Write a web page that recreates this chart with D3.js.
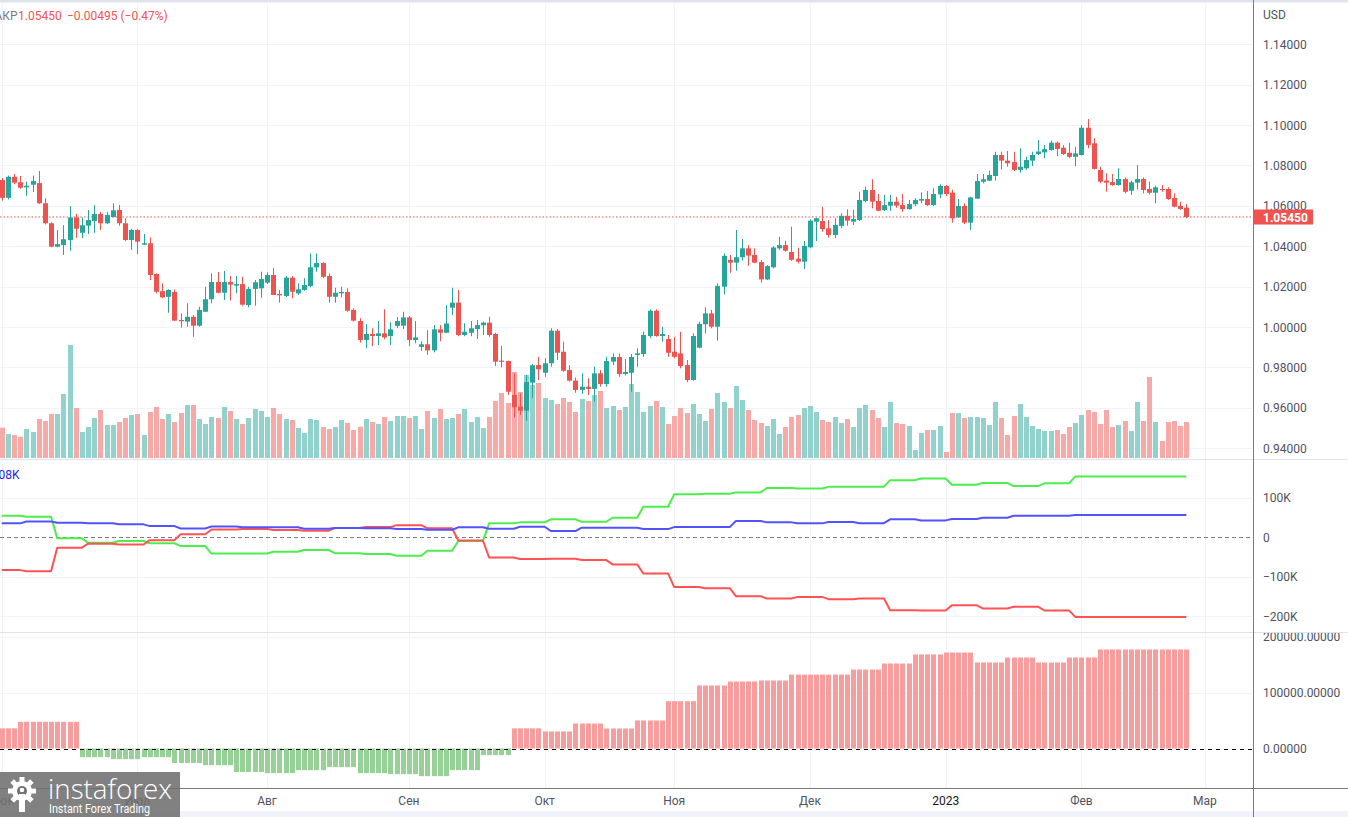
<!DOCTYPE html>
<html><head><meta charset="utf-8">
<script src="https://cdn.jsdelivr.net/npm/d3@7"></script>
<style>body{margin:0;background:#fff;overflow:hidden}svg{display:block;font-family:Roboto,"Liberation Sans",sans-serif}</style>
</head><body><svg id="chart" width="1348" height="817"></svg>
<script>
// ---------- DATA ----------
const opens=[1.0728,1.0640,1.0744,1.0717,1.0692,1.0705,1.0713,1.0613,1.0514,1.0398,
1.0406,1.0431,1.0543,1.0467,1.0502,1.0525,1.0560,1.0514,1.0545,1.0580,
1.0514,1.0431,1.0481,1.0408,1.0415,1.0263,1.0178,1.0150,1.0174,1.0035,
1.0027,1.0051,1.0007,1.0076,1.0138,1.0223,1.0170,1.0223,1.0205,1.0213,
1.0109,1.0189,1.0192,1.0220,1.0258,1.0164,1.0154,1.0245,1.0167,1.0184,
1.0203,1.0296,1.0317,1.0253,1.0150,1.0167,1.0174,1.0085,1.0030,0.9936,
0.9966,0.9956,0.9969,0.9956,1.0006,1.0007,1.0048,0.9936,0.9902,0.9915,
0.9885,0.9989,0.9972,1.0096,1.0121,0.9961,0.9972,0.9990,1.0009,1.0022,
0.9966,0.9834,0.9832,0.9664,0.9606,0.9586,0.9725,0.9812,0.9774,0.9821,
0.9982,0.9878,0.9788,0.9735,0.9689,0.9705,0.9694,0.9771,0.9718,0.9829,
0.9852,0.9768,0.9774,0.9862,0.9867,0.9956,1.0081,0.9956,0.9941,0.9878,
0.9870,0.9812,0.9738,0.9898,1.0014,1.0068,1.0002,1.0200,1.0333,1.0319,
1.0346,1.0390,1.0357,1.0322,1.0236,1.0296,1.0390,1.0406,1.0372,1.0339,
1.0324,1.0395,1.0522,1.0525,1.0489,1.0456,1.0501,1.0551,1.0522,1.0530,
1.0624,1.0679,1.0624,1.0579,1.0601,1.0621,1.0604,1.0584,1.0608,1.0626,
1.0634,1.0604,1.0657,1.0699,1.0666,1.0544,1.0600,1.0517,1.0636,1.0720,
1.0725,1.0748,1.0852,1.0824,1.0817,1.0778,1.0786,1.0824,1.0857,1.0865,
1.0877,1.0913,1.0888,1.0863,1.0843,1.0852,1.0987,1.0910,1.0778,1.0725,
1.0718,1.0703,1.0733,1.0675,1.0715,1.0733,1.0684,1.0665,1.0684,1.0684,
1.0639,1.0600,1.0591];
const highs=[1.0738,1.0750,1.0758,1.0748,1.0720,1.0750,1.0773,1.0638,1.0519,1.0481,
1.0505,1.0599,1.0560,1.0543,1.0580,1.0604,1.0571,1.0569,1.0613,1.0604,
1.0539,1.0486,1.0486,1.0461,1.0444,1.0266,1.0217,1.0187,1.0186,1.0068,
1.0118,1.0060,1.0101,1.0200,1.0266,1.0273,1.0278,1.0253,1.0253,1.0249,
1.0200,1.0233,1.0274,1.0271,1.0293,1.0184,1.0253,1.0253,1.0217,1.0242,
1.0365,1.0365,1.0321,1.0266,1.0195,1.0200,1.0192,1.0093,1.0044,1.0015,
0.9994,1.0030,1.0088,1.0024,1.0050,1.0076,1.0055,1.0030,0.9930,0.9985,
1.0010,1.0010,1.0109,1.0195,1.0184,1.0019,1.0030,1.0035,1.0027,1.0051,
0.9972,0.9906,0.9834,0.9771,0.9672,0.9763,0.9817,0.9853,0.9846,0.9994,
0.9991,0.9928,0.9812,0.9751,0.9771,0.9747,0.9804,0.9788,0.9853,0.9870,
0.9870,0.9842,0.9867,0.9895,0.9977,1.0088,1.0088,1.0002,0.9961,0.9952,
0.9977,0.9837,0.9969,1.0027,1.0098,1.0085,1.0217,1.0365,1.0357,1.0481,
1.0436,1.0406,1.0390,1.0332,1.0307,1.0401,1.0447,1.0428,1.0497,1.0393,
1.0426,1.0534,1.0541,1.0596,1.0530,1.0539,1.0563,1.0583,1.0580,1.0670,
1.0695,1.0732,1.0659,1.0654,1.0654,1.0645,1.0659,1.0629,1.0638,1.0667,
1.0674,1.0687,1.0707,1.0703,1.0680,1.0634,1.0613,1.0645,1.0758,1.0758,
1.0774,1.0868,1.0868,1.0872,1.0868,1.0885,1.0843,1.0868,1.0926,1.0901,
1.0923,1.0918,1.0901,1.0913,1.0893,1.1000,1.1030,1.0935,1.0794,1.0761,
1.0758,1.0786,1.0740,1.0725,1.0802,1.0741,1.0720,1.0700,1.0703,1.0692,
1.0662,1.0621,1.0609];
const lows=[1.0626,1.0632,1.0707,1.0685,1.0650,1.0669,1.0610,1.0508,1.0395,1.0395,
1.0357,1.0378,1.0442,1.0440,1.0461,1.0467,1.0481,1.0510,1.0543,1.0502,
1.0425,1.0382,1.0362,1.0406,1.0233,1.0167,1.0144,1.0071,1.0030,0.9997,
1.0002,0.9952,1.0002,1.0076,1.0118,1.0167,1.0134,1.0131,1.0167,1.0106,
1.0098,1.0106,1.0145,1.0214,1.0159,1.0121,1.0149,1.0143,1.0159,1.0180,
1.0197,1.0275,1.0242,1.0121,1.0121,1.0147,1.0076,1.0027,0.9923,0.9895,
0.9906,0.9911,0.9940,0.9911,0.9995,0.9990,0.9906,0.9920,0.9882,0.9862,
0.9875,0.9930,0.9970,1.0060,0.9955,0.9955,0.9955,0.9941,0.9961,0.9952,
0.9807,0.9801,0.9664,0.9553,0.9565,0.9537,0.9650,0.9738,0.9754,0.9804,
0.9837,0.9779,0.9730,0.9675,0.9669,0.9664,0.9631,0.9705,0.9705,0.9812,
0.9754,0.9760,0.9680,0.9804,0.9853,0.9945,0.9952,0.9928,0.9853,0.9846,
0.9796,0.9727,0.9735,0.9895,0.9969,0.9994,0.9933,1.0162,1.0269,1.0279,
1.0329,1.0304,1.0316,1.0220,1.0233,1.0291,1.0382,1.0373,1.0328,1.0315,
1.0288,1.0390,1.0426,1.0472,1.0443,1.0440,1.0489,1.0502,1.0505,1.0525,
1.0618,1.0588,1.0574,1.0575,1.0575,1.0591,1.0571,1.0582,1.0599,1.0613,
1.0599,1.0600,1.0638,1.0649,1.0517,1.0540,1.0510,1.0481,1.0634,1.0712,
1.0722,1.0725,1.0780,1.0794,1.0773,1.0764,1.0778,1.0797,1.0852,1.0836,
1.0873,1.0847,1.0852,1.0836,1.0797,1.0850,1.0885,1.0780,1.0712,1.0670,
1.0700,1.0700,1.0662,1.0654,1.0682,1.0662,1.0657,1.0613,1.0670,1.0630,
1.0593,1.0580,1.0540];
const closes=[1.0640,1.0744,1.0715,1.0690,1.0700,1.0723,1.0613,1.0514,1.0398,1.0411,
1.0435,1.0543,1.0487,1.0504,1.0530,1.0560,1.0514,1.0555,1.0578,1.0514,
1.0431,1.0481,1.0423,1.0415,1.0258,1.0175,1.0147,1.0184,1.0032,1.0029,
1.0051,1.0007,1.0085,1.0138,1.0223,1.0170,1.0223,1.0210,1.0213,1.0111,
1.0189,1.0222,1.0238,1.0258,1.0159,1.0157,1.0245,1.0175,1.0187,1.0208,
1.0296,1.0317,1.0249,1.0150,1.0170,1.0174,1.0081,1.0032,0.9936,0.9966,
0.9956,0.9969,0.9949,0.9989,1.0030,1.0048,0.9936,0.9949,0.9915,0.9885,
0.9989,0.9972,1.0018,1.0121,0.9961,0.9977,0.9994,1.0010,1.0022,0.9961,
0.9829,0.9829,0.9680,0.9603,0.9586,0.9728,0.9811,0.9791,0.9821,0.9982,
0.9873,0.9784,0.9735,0.9689,0.9705,0.9694,0.9771,0.9718,0.9832,0.9852,
0.9768,0.9778,0.9852,0.9870,0.9961,1.0081,0.9956,0.9966,0.9873,0.9853,
0.9807,0.9738,0.9956,1.0016,1.0068,1.0002,1.0204,1.0353,1.0319,1.0346,
1.0390,1.0354,1.0319,1.0236,1.0302,1.0394,1.0406,1.0378,1.0333,1.0324,
1.0402,1.0527,1.0539,1.0485,1.0456,1.0506,1.0551,1.0527,1.0535,1.0629,
1.0679,1.0621,1.0576,1.0604,1.0621,1.0601,1.0584,1.0609,1.0629,1.0634,
1.0604,1.0659,1.0699,1.0659,1.0539,1.0600,1.0517,1.0642,1.0723,1.0732,
1.0753,1.0852,1.0824,1.0811,1.0778,1.0794,1.0827,1.0852,1.0869,1.0881,
1.0913,1.0882,1.0857,1.0843,1.0860,1.0987,1.0902,1.0783,1.0720,1.0715,
1.0703,1.0733,1.0670,1.0717,1.0733,1.0679,1.0665,1.0692,1.0679,1.0634,
1.0596,1.0585,1.0545];
const volumes=[303,240,230,213,290,260,390,370,440,440,
640,1130,500,260,310,400,480,330,330,360,
400,430,440,230,460,510,390,440,360,450,
530,530,390,340,410,400,510,470,390,340,
400,490,470,410,500,440,390,380,300,250,
390,380,310,290,310,380,350,280,313,390,
360,340,410,370,420,420,400,420,290,470,
400,490,390,400,440,490,360,410,300,410,
570,650,550,860,660,830,730,750,600,580,
540,600,560,460,590,570,630,670,500,520,
480,510,740,660,460,520,570,510,340,420,
500,450,540,440,370,490,650,560,500,720,
580,480,380,350,320,390,240,310,410,430,
500,520,460,380,360,410,350,390,310,500,
530,480,400,310,560,350,340,320,80,250,
280,280,320,60,450,450,400,410,410,400,
330,560,400,230,420,540,410,320,290,270,
270,280,240,310,350,430,480,460,340,480,
310,330,370,270,560,370,810,360,170,360,
370,320,360];
// weekly COT positions (thousands of contracts), one value per report week
const cotGreen=[54.5,52,-2.5,-13.5,-9.3,-15,-22,-41,-41,-36.5,-32,-40,-42,-46.7,-34,-9.4,36,38,45.7,39.6,49.7,77.7,109,110.5,114,125,124,128,128.5,145,149,133.5,138,130,137,154,154,154,154];
const cotBlue=[35.5,40,37,35.5,33,28.5,22.5,27.5,25.5,25.5,22,23.6,23,21,19.3,25.4,22,27,16,24.4,24.4,21,26,26,41.4,38,35.5,38.8,36,45.7,43,46.4,49.7,54.8,54.8,56.6,56.6,56.6,56.6];
const cotRed=[-83,-86,-26,-16,-18,-7,8,20,21,18.5,17,23.5,26,31,23,-8,-51,-55,-54,-57.6,-68.5,-91.4,-126,-128.7,-149,-154.8,-150.8,-156.6,-154.8,-184.5,-185.3,-171.8,-180,-176,-185,-201.5,-201.5,-201.5,-201.5];
// weekly histogram values (thousands)
const histWeekly=[36,47.6,47.6,-15.5,-19,-15.5,-26,-29.8,-42,-44,-38.7,-33.3,-44,-45.8,-49.4,-38.7,-11.9,36,30.4,44.6,35.7,50,84.5,112.5,119.6,121.4,132,132,141,151.8,168,171.4,153.6,162.5,153.6,162.5,176.8,176.8,176.8];
const priceTicks=[0.94,0.96,0.98,1.00,1.02,1.04,1.06,1.08,1.10,1.12,1.14];
const cotTicks=[100000,0,-100000,-200000];
const cotTickLabels=["100K","0","\u2212100K","\u2212200K"];
const histTicks=[0,100000,200000];
const monthLabels=["Июн","Июл","Авг","Сен","Окт","Ноя","Дек","2023","Фев","Мар"];
const lastPrice=1.05450;
const legendParts=["1.05450","\u22120.00495 (\u22120.47%)"];

// ---------- SETUP ----------
const svg=d3.select('#chart');
const AX=1253;
const UP='#26a69a',DN='#ef5350',GRID='#f0f3fa',TXT='#50535e';
const days=[];
for(let d=new Date(Date.UTC(2022,5,1));d<=new Date(Date.UTC(2023,2,3));d.setUTCDate(d.getUTCDate()+1)){
  const w=d.getUTCDay(); if(w>0&&w<6) days.push(new Date(d));
}
const N=opens.length;
const x=d3.scaleLinear().domain([0,N-1]).range([1.7,1186.3]);
const yP=d3.scaleLinear().domain([0.94,1.14]).range([448.3,44.3]);
const yV=d3.scaleLinear().domain([0,4580]).range([458,0]);
const yC=d3.scaleLinear().domain([-200000,100000]).range([616.3,497.9]);
const yH=d3.scaleLinear().domain([0,200000]).range([748.5,636.5]);

const defs=svg.append('defs');
function clip(id,x0,y0,w,h){defs.append('clipPath').attr('id',id).append('rect').attr('x',x0).attr('y',y0).attr('width',w).attr('height',h);}
clip('cp',0,3,AX,456); clip('cc',0,460,AX,172); clip('ch',0,633,AX,155); clip('ca',AX+1,633,100,155); clip('cl',0,0,AX,817);

svg.append('rect').attr('width',1348).attr('height',817).attr('fill','#fff');
svg.append('rect').attr('x',0).attr('y',0).attr('width',1348).attr('height',2.5).attr('fill','#e0e3eb');
svg.append('rect').attr('x',0).attr('y',811).attr('width',1348).attr('height',6).attr('fill','#f0f3fa');

// month ticks
const monthIdx=[];
days.forEach((d,i)=>{if(i===0||d.getUTCMonth()!==days[i-1].getUTCMonth()) monthIdx.push(i);});

// vertical grid
const grid=svg.append('g').attr('clip-path','url(#cl)');
monthIdx.forEach(i=>{
  grid.append('line').attr('x1',Math.round(x(i))+0.5).attr('x2',Math.round(x(i))+0.5).attr('y1',3).attr('y2',788).attr('stroke',GRID);
});
// horizontal grid
priceTicks.forEach(t=>grid.append('line').attr('x1',0).attr('x2',AX).attr('y1',Math.round(yP(t))+0.5).attr('y2',Math.round(yP(t))+0.5).attr('stroke',GRID));
cotTicks.filter(t=>t!==0).forEach(t=>grid.append('line').attr('x1',0).attr('x2',AX).attr('y1',Math.round(yC(t))+0.5).attr('y2',Math.round(yC(t))+0.5).attr('stroke',GRID));
histTicks.filter(t=>t!==0).forEach(t=>grid.append('line').attr('x1',0).attr('x2',AX).attr('y1',Math.round(yH(t))+0.5).attr('y2',Math.round(yH(t))+0.5).attr('stroke',GRID));

const idx=d3.range(N);
const isUp=i=>closes[i]>=opens[i];
const cx=i=>Math.round(x(i));

// ---------- PRICE PANE ----------
const gp=svg.append('g').attr('clip-path','url(#cp)');
gp.selectAll('rect.vol').data(idx).join('rect').attr('class','vol')
  .attr('x',i=>cx(i)-2).attr('width',5)
  .attr('y',i=>yV(volumes[i])).attr('height',i=>yV(0)-yV(volumes[i]))
  .attr('fill',i=>isUp(i)?'#92d2cc':'#f7a9a7');
gp.append('line').attr('x1',0).attr('x2',AX).attr('y1',yP(lastPrice)).attr('y2',yP(lastPrice))
  .attr('stroke',DN).attr('stroke-width',1).attr('stroke-dasharray','1.5 2');
gp.selectAll('line.wick').data(idx).join('line').attr('class','wick')
  .attr('x1',i=>cx(i)+0.5).attr('x2',i=>cx(i)+0.5)
  .attr('y1',i=>yP(highs[i])).attr('y2',i=>yP(lows[i]))
  .attr('stroke',i=>isUp(i)?UP:DN).attr('stroke-width',1);
gp.selectAll('rect.body').data(idx).join('rect').attr('class','body')
  .attr('x',i=>cx(i)-2).attr('width',5)
  .attr('y',i=>Math.min(yP(opens[i]),yP(closes[i])))
  .attr('height',i=>Math.max(1.2,Math.abs(yP(opens[i])-yP(closes[i]))))
  .attr('fill',i=>isUp(i)?UP:DN);

// legend
svg.append('text').attr('x',17.5).attr('y',20).attr('text-anchor','end').attr('font-size',12).attr('fill','#787b86').text('ЗАКР');
svg.append('text').attr('x',18).attr('y',20).attr('font-size',12).attr('fill',DN).text(legendParts[0]);
svg.append('text').attr('x',67).attr('y',20).attr('font-size',12).attr('fill',DN).text(legendParts[1]);

// ---------- COT PANE ----------
const gc=svg.append('g').attr('clip-path','url(#cc)');
gc.append('line').attr('x1',0).attr('x2',AX).attr('y1',Math.round(yC(0))+0.5).attr('y2',Math.round(yC(0))+0.5)
  .attr('stroke','#787b86').attr('stroke-dasharray','4 3');
const wk=i=>i<4?0:Math.floor((i+1)/5);
function cotLine(arr,color){
  const ln=d3.line().x(i=>x(i)).y(i=>yC(arr[wk(i)]*1000));
  gc.append('path').attr('d',ln(idx)).attr('fill','none').attr('stroke',color).attr('stroke-width',2).attr('stroke-linejoin','round');
}
cotLine(cotGreen,'#4cee4c');
cotLine(cotRed,'#ff5252');
cotLine(cotBlue,'#5252ff');
svg.append('text').attr('x',19.5).attr('y',479).attr('text-anchor','end').attr('font-size',12).attr('fill','#2222ff').text('08K');

// ---------- HISTOGRAM PANE ----------
const gh=svg.append('g').attr('clip-path','url(#ch)');
const hw=i=>i<3?0:Math.floor((i+2)/5);
gh.selectAll('rect.h').data(idx).join('rect').attr('class','h')
  .attr('x',i=>cx(i)-2).attr('width',5)
  .attr('y',i=>{const v=histWeekly[hw(i)]*1000;return v>=0?yH(v):yH(0);})
  .attr('height',i=>{const v=histWeekly[hw(i)]*1000;return Math.abs(yH(v)-yH(0));})
  .attr('fill',i=>histWeekly[hw(i)]>=0?'#f89d9d':'#98d197');
gh.append('line').attr('x1',0).attr('x2',AX).attr('y1',Math.round(yH(0))+0.5).attr('y2',Math.round(yH(0))+0.5)
  .attr('stroke','#000').attr('stroke-dasharray','4 4');

// ---------- SEPARATORS & AXES ----------
svg.append('line').attr('x1',0).attr('x2',1348).attr('y1',459.5).attr('y2',459.5).attr('stroke','#e0e3eb');
svg.append('line').attr('x1',0).attr('x2',1348).attr('y1',632.5).attr('y2',632.5).attr('stroke','#e0e3eb');
svg.append('line').attr('x1',0).attr('x2',1348).attr('y1',788.5).attr('y2',788.5).attr('stroke','#787b86');
svg.append('line').attr('x1',AX+0.5).attr('x2',AX+0.5).attr('y1',0).attr('y2',817).attr('stroke','#787b86');

const ax=svg.append('g').attr('font-size',12).attr('fill',TXT);
ax.append('text').attr('x',1263).attr('y',19).text('USD');
priceTicks.forEach(t=>ax.append('text').attr('x',1263).attr('y',yP(t)+4.5).text(t.toFixed(5)));
cotTicks.forEach((t,k)=>ax.append('text').attr('x',1263).attr('y',yC(t)+4.5).text(cotTickLabels[k]));
const gha=ax.append('g').attr('clip-path','url(#ca)');
histTicks.forEach(t=>gha.append('text').attr('x',1263).attr('y',yH(t)+4.5).text(t.toFixed(5)));

// last price label
svg.append('rect').attr('x',AX).attr('y',yP(lastPrice)-7.5).attr('width',60).attr('height',15).attr('fill',DN);
svg.append('text').attr('x',1263).attr('y',yP(lastPrice)+4.5).attr('font-size',12).attr('font-weight','bold').attr('fill','#fff').text(lastPrice.toFixed(5));

// time axis
const ta=svg.append('g').attr('clip-path','url(#cl)');
monthIdx.forEach((i,k)=>{
  ta.append('text').attr('x',x(i)).attr('y',805).attr('text-anchor','middle').attr('font-size',12)
    .attr('fill',monthLabels[k]==='2023'?'#131722':TXT).text(monthLabels[k]);
});

// ---------- LOGO ----------
const lg=svg.append('g').attr('transform','translate(0,772)');
lg.append('rect').attr('width',180).attr('height',45).attr('fill','rgba(112,112,112,0.88)');
const gear=lg.append('g').attr('transform','translate(22,19)').attr('fill','#fff');
d3.range(8).forEach(k=>gear.append('rect').attr('x',-2.5).attr('y',-14).attr('width',5).attr('height',6).attr('transform',`rotate(${k*45})`));
gear.append('circle').attr('r',10);
gear.append('circle').attr('r',5).attr('fill','rgb(112,112,112)');
gear.append('circle').attr('r',2.3).attr('cy',-1);
lg.append('rect').attr('x',19).attr('y',22).attr('width',6).attr('height',18).attr('fill','#fff');
lg.append('text').attr('x',48).attr('y',27).attr('font-size',27).attr('font-family','"Open Sans",Roboto,sans-serif').attr('font-weight',300)
  .attr('fill','#fff').attr('textLength',124).attr('lengthAdjust','spacingAndGlyphs').text('instaforex');
lg.append('text').attr('x',49).attr('y',41).attr('font-size',12).attr('fill','#fff').attr('textLength',101).attr('lengthAdjust','spacingAndGlyphs').text('Instant Forex Trading');
</script>
</body></html>
